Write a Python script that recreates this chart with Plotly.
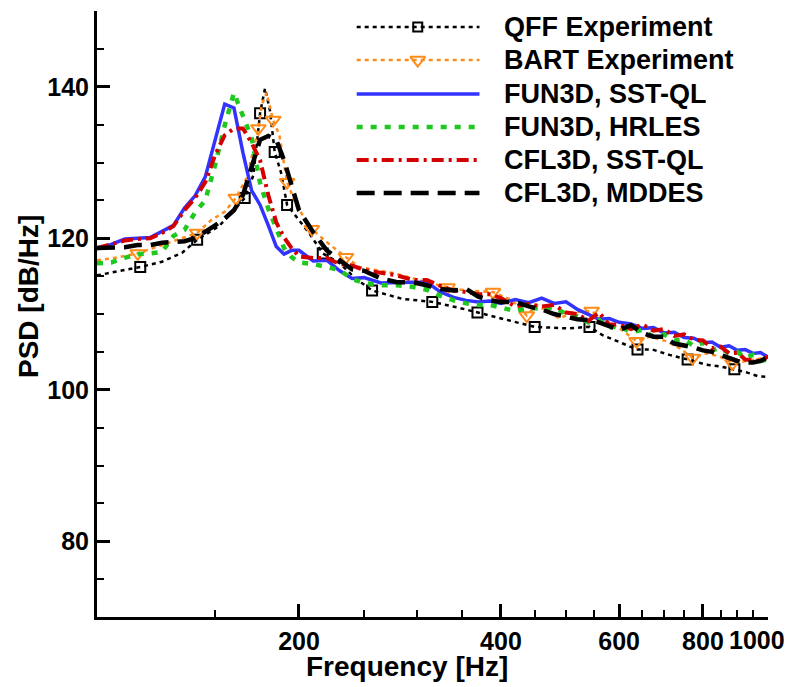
import plotly.graph_objects as go

# ---------------- data ----------------
CFD_FREQ = [100, 105, 110, 115, 120, 125, 130, 135, 140, 145, 150, 155, 160, 165, 170, 175, 180, 185, 190, 195,
            200, 210, 220, 230, 240, 250, 265, 280, 295, 310, 325, 340, 355, 370, 385, 400, 420, 440, 460, 480,
            500, 520, 540, 560, 580, 600, 625, 650, 675, 700, 725, 750, 775, 800, 825, 850, 875, 900, 925, 950,
            975, 1000]

FUN3D_SSTQL = [118.6, 119.2, 119.9, 120.0, 120.1, 120.9, 121.7, 124.0, 125.6, 128.1, 133.1, 137.7, 137.2, 131.3,
               126.3, 124.4, 121.7, 118.9, 117.9, 118.4, 118.4, 117.0, 117.1, 115.7, 114.7, 114.8, 114.1, 114.2,
               114.2, 114.2, 112.9, 112.2, 111.8, 111.6, 111.7, 111.4, 111.9, 111.5, 112.1, 111.4, 111.6, 110.6,
               110.0, 109.3, 109.4, 108.9, 108.7, 108.1, 108.2, 107.5, 107.6, 106.9, 106.8, 106.2, 106.3, 105.6,
               105.8, 105.2, 105.3, 104.8, 104.9, 104.3]

FUN3D_HRLES = [116.7, 116.8, 117.4, 117.9, 118.0, 118.2, 120.3, 121.1, 123.4, 125.0, 129.7, 134.9, 139.2, 136.3,
               133.2, 127.3, 123.9, 121.3, 118.7, 117.5, 116.8, 116.6, 116.2, 115.8, 114.6, 114.1, 113.8, 113.8,
               113.6, 113.2, 112.4, 111.8, 111.4, 111.2, 111.2, 110.9, 110.4, 110.8, 110.7, 110.9, 110.0, 109.7,
               108.9, 109.2, 108.2, 108.4, 107.6, 107.9, 107.0, 107.3, 106.5, 106.6, 105.8, 106.2, 105.2, 105.5,
               104.8, 105.0, 104.2, 104.6, 103.8, 104.0]

CFL3D_SSTQL = [118.7, 119.2, 119.7, 119.9, 120.0, 120.7, 121.6, 123.7, 125.3, 127.4, 131.0, 133.6, 134.5, 134.5,
               132.6, 130.3, 125.7, 122.1, 120.1, 118.7, 117.6, 117.4, 117.4, 116.6, 116.4, 115.8, 115.4, 115.1,
               114.5, 114.5, 113.7, 113.1, 112.9, 112.6, 112.6, 112.1, 111.0, 111.3, 111.0, 111.2, 110.2, 110.0,
               109.1, 110.2, 108.6, 108.6, 108.0, 108.6, 107.8, 108.0, 107.1, 107.3, 106.6, 106.5, 105.5, 105.7,
               104.8, 104.9, 104.0, 103.9, 103.8, 104.4]

CFL3D_MDDES = [118.7, 118.8, 118.8, 119.1, 119.1, 119.4, 119.5, 119.6, 120.0, 120.8, 121.7, 122.6, 123.7, 125.7,
               129.6, 133.0, 133.5, 133.0, 130.3, 126.7, 123.7, 120.8, 118.4, 117.1, 115.9, 115.7, 114.7, 114.2,
               114.2, 113.8, 113.3, 113.1, 113.3, 112.3, 111.8, 111.6, 111.6, 111.0, 110.6, 110.0, 109.6, 109.3,
               109.2, 108.9, 108.4, 107.9, 108.5, 107.5, 107.0, 107.0, 106.1, 105.9, 105.6, 105.2, 105.0, 104.6,
               104.2, 103.8, 103.6, 103.6, 103.8, 104.3]

QFF_FREQ = [100, 106, 116, 125, 134, 141, 147, 152, 158, 166, 171, 175, 178, 181, 184, 188, 192, 200, 207, 217,
            230, 242, 257, 285, 316, 347, 369, 398, 449, 501, 542, 567, 601, 639, 673, 713, 759, 810, 847, 891,
            929, 965, 1000]
QFF_PSD = [115.1, 115.5, 116.2, 116.9, 118.1, 119.8, 120.8, 121.6, 123.2, 125.3, 128.3, 136.5, 139.8, 136.9,
           131.4, 128.7, 124.4, 122.4, 120.7, 118.0, 116.7, 114.8, 113.1, 112.0, 111.6, 110.8, 110.2, 109.5,
           108.3, 108.1, 108.3, 107.2, 106.3, 105.3, 105.3, 104.6, 104.0, 103.3, 103.1, 102.7, 102.3, 101.8, 101.7]
QFF_MARKER_IDX = [2, 5, 9, 11, 14, 16, 19, 22, 24, 26, 28, 30, 33, 36, 39]

BART_FREQ = [100, 106, 115, 125, 134, 141, 148, 155, 161, 167, 171, 174, 176, 179, 183, 187, 192, 198, 209, 222,
             235, 246, 276, 295, 310, 333, 355, 389, 416, 437, 452, 489, 511, 546, 574, 601, 637, 666, 706, 738,
             772, 810, 847, 885, 929, 1000]
BART_PSD = [117.1, 117.4, 118.0, 119.1, 120.1, 120.7, 122.4, 123.5, 125.3, 127.9, 131.6, 134.5, 137.6, 139.2,
            135.6, 133.6, 127.4, 124.4, 121.2, 119.2, 117.5, 116.2, 115.4, 114.7, 114.2, 113.5, 113.1, 112.9,
            111.8, 109.8, 111.2, 109.4, 110.2, 110.4, 108.8, 108.1, 106.4, 107.0, 106.4, 105.5, 104.2, 104.8,
            104.4, 103.5, 103.8, 104.3]
BART_MARKER_IDX = [2, 5, 8, 11, 14, 16, 18, 20, 25, 27, 29, 33, 36, 40, 43]

X_TICKS = [200, 400, 600, 800, 1000]
X_MINOR = [150, 250, 300, 350, 450, 500, 550, 650, 700, 750, 850, 900, 950]
Y_TICKS = [80, 100, 120, 140]
Y_MINOR = [75, 85, 90, 95, 105, 110, 115, 125, 130, 135, 145, 150]

X_TITLE = "Frequency [Hz]"
Y_TITLE = "PSD [dB/Hz]"
LEGEND_LABELS = ["QFF Experiment", "BART Experiment", "FUN3D, SST-QL", "FUN3D, HRLES", "CFL3D, SST-QL",
                 "CFL3D, MDDES"]

# ---------------- styles ----------------
FONT = "Liberation Sans, Arial, sans-serif"
BLACK = "#000000"
ORANGE = "#ff8c1a"
BLUE = "#3333ff"
GREEN = "#1ec81e"
RED = "#d40000"

styles = [
    dict(color=BLACK, width=2.5, dash="4px,4px"),
    dict(color=ORANGE, width=2.5, dash="4px,4px"),
    dict(color=BLUE, width=3.5, dash="solid"),
    dict(color=GREEN, width=4.5, dash="6px,8px"),
    dict(color=RED, width=4, dash="12px,5px,3px,5px"),
    dict(color=BLACK, width=4.5, dash="18px,9px"),
]
qff_marker = dict(symbol="square-open", size=10, color=BLACK, line=dict(width=2, color=BLACK))
bart_marker = dict(symbol="triangle-down-open", size=13, color=ORANGE, line=dict(width=2, color=ORANGE))

fig = go.Figure()

# experiments
fig.add_trace(go.Scatter(x=QFF_FREQ, y=QFF_PSD, mode="lines", line=styles[0], showlegend=False))
fig.add_trace(go.Scatter(x=[QFF_FREQ[i] for i in QFF_MARKER_IDX], y=[QFF_PSD[i] for i in QFF_MARKER_IDX],
                         mode="markers", marker=qff_marker, showlegend=False))
fig.add_trace(go.Scatter(x=BART_FREQ, y=BART_PSD, mode="lines", line=styles[1], showlegend=False))
fig.add_trace(go.Scatter(x=[BART_FREQ[i] for i in BART_MARKER_IDX], y=[BART_PSD[i] for i in BART_MARKER_IDX],
                         mode="markers", marker=bart_marker, showlegend=False))
# simulations
for ys, st in zip([FUN3D_SSTQL, FUN3D_HRLES, CFL3D_SSTQL, CFL3D_MDDES], styles[2:]):
    fig.add_trace(go.Scatter(x=CFD_FREQ, y=ys, mode="lines", line=st, showlegend=False))

# ---------------- custom legend on an overlay axis ----------------
leg_rows = [0.9736, 0.919, 0.863, 0.8086, 0.754, 0.6997]
lx0, lx1, lxm, ltx = 0.387, 0.570, 0.478, 0.603
for i, (lab, st) in enumerate(zip(LEGEND_LABELS, styles)):
    fig.add_trace(go.Scatter(x=[lx0, lx1], y=[leg_rows[i]] * 2, mode="lines", line=st,
                             xaxis="x2", yaxis="y2", showlegend=False, hoverinfo="skip"))
    fig.add_annotation(x=ltx, y=leg_rows[i], xref="paper", yref="paper", text=lab, showarrow=False,
                       xanchor="left", yanchor="middle",
                       font=dict(family=FONT, size=27, color=BLACK, weight="bold"))
fig.add_trace(go.Scatter(x=[lxm], y=[leg_rows[0]], mode="markers", marker=dict(qff_marker, size=9),
                         xaxis="x2", yaxis="y2", showlegend=False, hoverinfo="skip"))
fig.add_trace(go.Scatter(x=[lxm], y=[leg_rows[1]], mode="markers", marker=bart_marker,
                         xaxis="x2", yaxis="y2", showlegend=False, hoverinfo="skip"))

tickfont = dict(family=FONT, size=25, color=BLACK, weight="bold")
titlefont = dict(family=FONT, size=28, color=BLACK, weight="bold")

# last x tick label sits slightly left of its tick in the reference
fig.add_annotation(x=0.9836, y=0, xref="paper", yref="paper", text=str(X_TICKS[-1]), showarrow=False,
                   xanchor="center", yanchor="middle", yshift=-23, font=tickfont)
# axis titles (placed as in the reference, slightly off-centre)
fig.add_annotation(x=0.462, y=0, xref="paper", yref="paper", text=X_TITLE, showarrow=False,
                   xanchor="center", yanchor="middle", yshift=-49, font=titlefont)
fig.add_annotation(x=0, y=0.528, xref="paper", yref="paper", text=Y_TITLE, showarrow=False,
                   textangle=-90, xanchor="center", yanchor="middle", xshift=-69, font=titlefont)

fig.update_layout(
    width=785, height=679,
    margin=dict(l=89, r=25, t=3, b=70),
    paper_bgcolor="white", plot_bgcolor="white",
    showlegend=False,
    xaxis=dict(type="log", range=[2, 3], tickmode="array", tickvals=X_TICKS,
               ticktext=[str(v) for v in X_TICKS[:-1]] + [""], ticks="inside", ticklen=13, tickwidth=2.5,
               tickcolor=BLACK, showline=True, linewidth=3, linecolor=BLACK, showgrid=False,
               zeroline=False, tickfont=tickfont,
               minor=dict(tickmode="array", tickvals=X_MINOR, ticks="inside", ticklen=7, tickwidth=1.5,
                          tickcolor=BLACK, showgrid=False)),
    yaxis=dict(range=[70, 150], tickmode="array", tickvals=Y_TICKS, ticks="inside", ticklen=13,
               tickwidth=2.5, tickcolor=BLACK, showline=True, linewidth=3, linecolor=BLACK,
               showgrid=False, zeroline=False, tickfont=tickfont,
               minor=dict(tickmode="array", tickvals=Y_MINOR, ticks="inside", ticklen=7, tickwidth=1.5,
                          tickcolor=BLACK, showgrid=False)),
    xaxis2=dict(overlaying="x", range=[0, 1], visible=False, anchor="y2"),
    yaxis2=dict(overlaying="y", range=[0, 1], visible=False, anchor="x2"),
)

fig.write_html("out.html")
